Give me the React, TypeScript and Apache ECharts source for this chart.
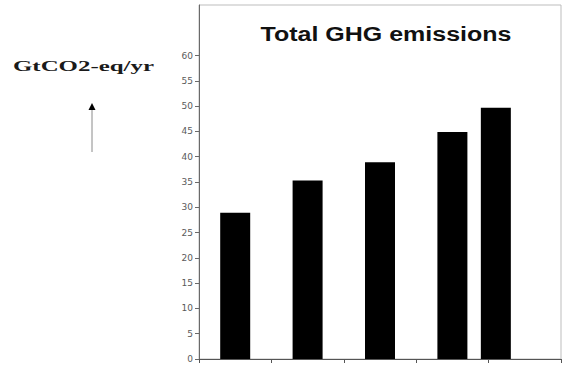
import React, { useEffect, useRef } from "react";
import * as echarts from "echarts";

// Data
const barPositions = [5, 15, 25, 35, 41];
const emissions = [28.9, 35.3, 38.9, 44.9, 49.7];
const yTickLabels = [0, 5, 10, 15, 20, 25, 30, 35, 40, 45, 50, 55, 60];
const chartTitle = "Total GHG emissions";
const unitLabel = "GtCO2-eq/yr";

export default function App() {
  const ref = useRef<HTMLDivElement>(null);
  useEffect(() => {
    if (!ref.current) return;
    const chart = echarts.init(ref.current, undefined, { renderer: "svg" });
    chart.setOption({
      animation: false,
      backgroundColor: "#ffffff",
      grid: {
        left: 199,
        top: 5,
        right: 8,
        bottom: 10,
        show: true,
        borderColor: "#bdbdbd",
        borderWidth: 1,
        containLabel: false,
      },
      xAxis: {
        type: "value",
        min: 0,
        max: 50,
        interval: 10,
        axisLine: { show: true, onZero: false, lineStyle: { color: "#555", width: 1 } },
        axisTick: { show: true, inside: false, length: 4, lineStyle: { color: "#555" } },
        axisLabel: { show: false },
        splitLine: { show: false },
      },
      yAxis: {
        type: "value",
        min: 0,
        max: 70,
        interval: 5,
        axisLine: { show: true, lineStyle: { color: "#6a6a6a", width: 1 } },
        axisTick: {
          show: true,
          length: 4,
          customValues: yTickLabels,
          lineStyle: { color: "#6a6a6a" },
        },
        axisLabel: {
          show: true,
          customValues: yTickLabels,
          margin: 6,
          color: "#5a5a5a",
          fontSize: 9,
          fontFamily: "DejaVu Sans",
        },
        splitLine: { show: false },
      },
      series: [
        {
          type: "bar",
          barWidth: 30,
          itemStyle: { color: "#000000" },
          data: barPositions.map((p, i) => [p, emissions[i]]),
        },
      ],
      graphic: [
        {
          type: "text",
          x: 386,
          y: 34,
          scaleX: 1.25,
          style: {
            text: chartTitle,
            fontSize: 20,
            fontWeight: "bold",
            fontFamily: "Liberation Sans",
            fill: "#111",
            textAlign: "center",
            textVerticalAlign: "middle",
          },
        },
        {
          type: "text",
          x: 13,
          y: 66,
          scaleX: 1.66,
          style: {
            text: unitLabel,
            fontSize: 15,
            fontWeight: "bold",
            fontFamily: "Liberation Serif",
            fill: "#1a1a1a",
            textAlign: "left",
            textVerticalAlign: "middle",
          },
        },
        {
          type: "line",
          shape: { x1: 92, y1: 152, x2: 92, y2: 108 },
          style: { stroke: "#8a8a8a", lineWidth: 1 },
        },
        {
          type: "polygon",
          shape: { points: [[88.5, 110], [95.5, 110], [92, 103]] },
          style: { fill: "#000" },
        },
      ],
    });
    return () => chart.dispose();
  }, []);
  return (
    <div
      ref={ref}
      style={{ position: "fixed", left: 0, top: 0, width: 569, height: 369 }}
    />
  );
}
